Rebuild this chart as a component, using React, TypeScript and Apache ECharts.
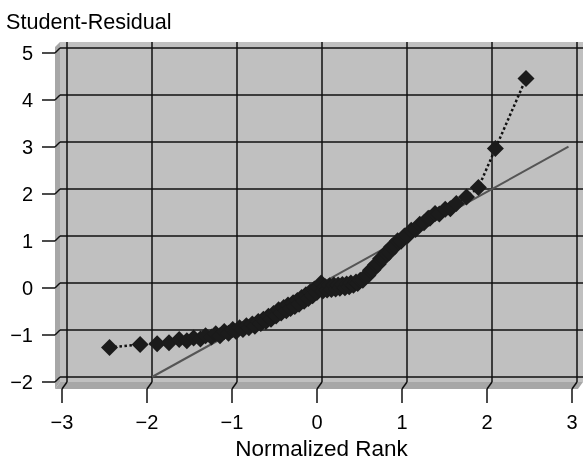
import React, { useEffect, useRef } from "react";
import * as echarts from "echarts";

// Normalized rank (x) and studentized residual (y)
const xRank = [
  -2.5, -2.14, -1.94, -1.8, -1.68, -1.59, -1.51, -1.43, -1.37, -1.3,
  -1.25, -1.2, -1.15, -1.1, -1.05, -1.01, -0.97, -0.93, -0.89, -0.86,
  -0.82, -0.79, -0.75, -0.72, -0.69, -0.66, -0.63, -0.6, -0.57, -0.54,
  -0.51, -0.48, -0.45, -0.42, -0.4, -0.37, -0.34, -0.32, -0.29, -0.27,
  -0.24, -0.21, -0.19, -0.16, -0.14, -0.11, -0.09, -0.06, -0.04, -0.01,
  0.01, 0.04, 0.06, 0.09, 0.11, 0.14, 0.16, 0.19, 0.21, 0.24,
  0.27, 0.29, 0.32, 0.34, 0.37, 0.4, 0.42, 0.45, 0.48, 0.51,
  0.54, 0.57, 0.6, 0.63, 0.66, 0.69, 0.72, 0.75, 0.79, 0.82,
  0.86, 0.89, 0.93, 0.97, 1.01, 1.05, 1.1, 1.15, 1.2, 1.25,
  1.27, 1.33, 1.38, 1.45, 1.51, 1.58, 1.7, 1.84, 2.04, 2.4,
];
const residual = [
  -1.37, -1.31, -1.29, -1.27, -1.2, -1.23, -1.17, -1.19, -1.12, -1.15,
  -1.08, -1.12, -1.03, -1.07, -0.99, -1.03, -0.95, -0.99, -0.91, -0.95,
  -0.87, -0.92, -0.82, -0.86, -0.77, -0.82, -0.71, -0.77, -0.65, -0.70,
  -0.57, -0.64, -0.52, -0.59, -0.47, -0.54, -0.42, -0.5, -0.37, -0.45,
  -0.31, -0.39, -0.25, -0.33, -0.19, -0.27, -0.13, -0.2, -0.1, 0.0,
  -0.17, -0.08, -0.15, -0.06, -0.14, -0.04, -0.13, -0.04, -0.11, -0.03,
  -0.1, -0.02, -0.08, 0.0, -0.05, 0.02, -0.01, 0.06, 0.06, 0.14,
  0.16, 0.27, 0.28, 0.39, 0.4, 0.52, 0.52, 0.64, 0.65, 0.77,
  0.78, 0.9, 0.89, 1.0, 1.01, 1.12, 1.14, 1.25, 1.28, 1.38,
  1.38, 1.48, 1.47, 1.57, 1.58, 1.69, 1.83, 2.03, 2.86, 4.35,
];
const refLineX = [-2, 2.9];
const xTicks = [-3, -2, -1, 0, 1, 2, 3];
const yTicks = [-2, -1, 0, 1, 2, 3, 4, 5];

const FONT = "'Liberation Sans', Arial, Helvetica, sans-serif";
const fmt = (v: number) => (v < 0 ? "\u2212" + Math.abs(v) : String(v));

export default function App() {
  const ref = useRef<HTMLDivElement>(null);
  useEffect(() => {
    if (!ref.current) return;
    const chart = echarts.init(ref.current, null, { renderer: "svg" });

    const renderBack = (params: any, api: any) => {
      const cs = params.coordSys;
      const L = cs.x - 7;
      const R = cs.x + cs.width + 6;
      const T = cs.y - 6;
      const B = cs.y + cs.height + 5;
      const dx = 5;
      const dy = 7;
      const ls = { stroke: "#111", lineWidth: 1.5 };
      const children: any[] = [
        { type: "rect", shape: { x: L, y: T, width: R - L, height: B - T }, style: { fill: "#c0c0c0" } },
        { type: "polygon", shape: { points: [[L - dx, T + dx], [L, T], [L, B], [L - dx, B + dy]] }, style: { fill: "#a7a7a7" } },
        { type: "polygon", shape: { points: [[L, B], [R, B], [R - dx, B + dy], [L - dx, B + dy]] }, style: { fill: "#a7a7a7" } },
      ];
      xTicks.forEach((v) => {
        const p = api.coord([v, yTicks[0]]);
        children.push({ type: "line", shape: { x1: p[0], y1: T, x2: p[0], y2: B }, style: ls });
        children.push({ type: "line", shape: { x1: p[0], y1: B, x2: p[0] - dx, y2: B + dy }, style: ls });
      });
      yTicks.forEach((v) => {
        const p = api.coord([xTicks[0], v]);
        children.push({ type: "line", shape: { x1: L, y1: p[1], x2: R, y2: p[1] }, style: ls });
        children.push({ type: "line", shape: { x1: L, y1: p[1], x2: L - dx, y2: p[1] + dx }, style: ls });
      });
      return { type: "group", children };
    };

    const hiddenX = (gi: number) => ({
      type: "value", gridIndex: gi, min: -3, max: 3, interval: 1, show: false,
      axisLine: { show: false, onZero: false }, axisTick: { show: false }, axisLabel: { show: false }, splitLine: { show: false },
    });
    const hiddenY = (gi: number) => ({
      type: "value", gridIndex: gi, min: -2, max: 5, interval: 1, show: false,
      axisLine: { show: false, onZero: false }, axisTick: { show: false }, axisLabel: { show: false }, splitLine: { show: false },
    });

    chart.setOption({
      animation: false,
      title: {
        text: "Student-Residual",
        left: 6,
        top: 10,
        padding: 0,
        textStyle: { fontSize: 21.6, fontWeight: "normal", color: "#000", fontFamily: FONT },
      },
      grid: [
        { left: 67, right: 8, top: 48, bottom: 85, outerBoundsMode: "none", containLabel: false },
        { left: 55, right: 13, top: 53, bottom: 80, outerBoundsMode: "none", containLabel: false },
        { left: 62, right: 13, top: 53, bottom: 73, outerBoundsMode: "none", containLabel: false },
      ],
      xAxis: [
        hiddenX(0),
        hiddenX(1),
        {
          type: "value",
          gridIndex: 2,
          position: "bottom",
          min: -3,
          max: 3,
          interval: 1,
          axisLine: { show: false, onZero: false },
          splitLine: { show: false },
          axisTick: { show: true, length: 14, lineStyle: { color: "#111", width: 1.5 } },
          axisLabel: { color: "#000", fontSize: 20, fontFamily: FONT, margin: 23, formatter: fmt },
          name: "Normalized Rank",
          nameLocation: "middle",
          nameGap: 46,
          nameTextStyle: { color: "#000", fontSize: 22.5, fontFamily: FONT, padding: [0, 0, 0, 9] },
        },
      ],
      yAxis: [
        hiddenY(0),
        {
          type: "value",
          gridIndex: 1,
          position: "left",
          min: -2,
          max: 5,
          interval: 1,
          axisLine: { show: false, onZero: false },
          splitLine: { show: false },
          axisTick: { show: true, length: 13, lineStyle: { color: "#111", width: 1.5 } },
          axisLabel: { color: "#000", fontSize: 20, fontFamily: FONT, margin: 22, formatter: fmt, padding: [4, 0, 0, 0] },
        },
        hiddenY(2),
      ],
      series: [
        {
          type: "custom",
          xAxisIndex: 0,
          yAxisIndex: 0,
          silent: true,
          clip: false,
          z: 0,
          data: [[0, 0]],
          renderItem: renderBack,
        },
        {
          type: "line",
          xAxisIndex: 0,
          yAxisIndex: 0,
          z: 3,
          silent: true,
          symbol: "none",
          data: refLineX.map((v) => [v, v]),
          lineStyle: { color: "#555", width: 2 },
        },
        {
          type: "line",
          xAxisIndex: 0,
          yAxisIndex: 0,
          z: 4,
          symbol: "diamond",
          symbolSize: 17,
          data: xRank.map((x, i) => [x, residual[i]]),
          lineStyle: { color: "#111", width: 2.5, type: "dotted" },
          itemStyle: { color: "#1b1b1b" },
        },
      ],
    });
    return () => chart.dispose();
  }, []);
  return <div ref={ref} style={{ position: "fixed", left: 0, top: 0, width: 585, height: 462 }} />;
}
